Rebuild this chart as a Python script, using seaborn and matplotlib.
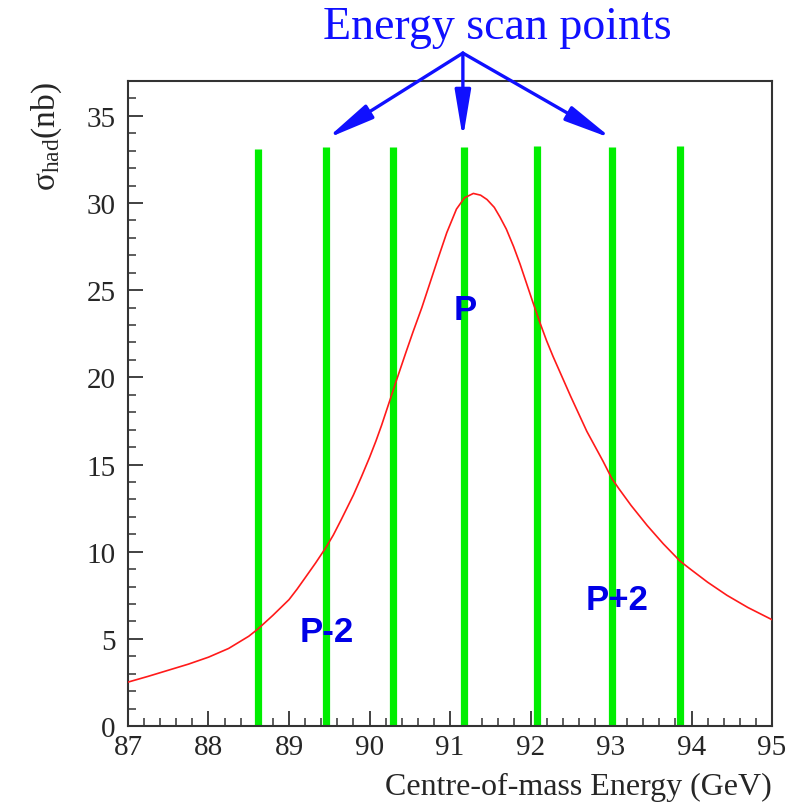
import matplotlib
matplotlib.use('Agg')
import matplotlib.pyplot as plt
from matplotlib.ticker import MultipleLocator
import seaborn as sns
import pandas as pd

# cross-section curve (GeV, nb)
energy = [87.0, 87.25, 87.5, 87.75, 88.0, 88.25, 88.5, 88.61, 88.8, 89.0,
          89.1, 89.2, 89.33, 89.46, 89.55, 89.65, 89.8, 89.9, 90.0, 90.08,
          90.15, 90.29, 90.34, 90.45, 90.54, 90.65, 90.75, 90.85, 90.96, 91.08,
          91.18, 91.29, 91.38, 91.46, 91.55, 91.62, 91.7, 91.79, 91.87, 91.95,
          92.03, 92.12, 92.2, 92.28, 92.39, 92.5, 92.7, 92.9, 93.01, 93.1,
          93.25, 93.45, 93.65, 93.86, 94.0, 94.2, 94.44, 94.7, 95.0]
sigma = [2.52, 2.85, 3.2, 3.55, 3.95, 4.45, 5.15, 5.55, 6.35, 7.25,
         7.85, 8.5, 9.35, 10.25, 10.95, 11.85, 13.25, 14.3, 15.4, 16.35,
         17.25, 19.2, 19.9, 21.4, 22.6, 24.0, 25.4, 26.8, 28.3, 29.65,
         30.3, 30.55, 30.45, 30.2, 29.75, 29.2, 28.5, 27.5, 26.5, 25.4,
         24.3, 23.1, 22.1, 21.2, 20.05, 18.9, 16.9, 15.2, 14.2, 13.6,
         12.65, 11.5, 10.45, 9.45, 8.95, 8.25, 7.5, 6.8, 6.1]

# energy scan points
scan_x = [88.61, 89.46, 90.29, 91.17, 92.08, 93.01, 93.86]
scan_top = [33.1, 33.2, 33.2, 33.2, 33.25, 33.2, 33.25]

# labelled points
point_names = ['P-2', 'P', 'P+2']
point_x = [89.47, 91.19, 93.08]
point_y = [5.45, 23.9, 7.27]

# arrow targets
arrow_x = [89.47, 91.16, 93.01]
arrow_src = (91.16, 38.6)
arrow_tip_y = 33.7

df = pd.DataFrame({'E': energy, 'sigma': sigma})

sns.set_theme(style='ticks')
plt.rcParams['font.family'] = ['Liberation Serif', 'DejaVu Serif']
plt.rcParams['mathtext.fontset'] = 'custom'
plt.rcParams['mathtext.rm'] = 'Liberation Serif'
plt.rcParams['mathtext.it'] = 'Liberation Serif:italic'

fig = plt.figure(figsize=(8.02, 8.03), dpi=100)
ax = fig.add_axes([0.1596, 0.0946, 0.803, 0.8033])

blue = '#1010ff'

ax.vlines(scan_x, 0, scan_top, colors='#00ee00', linewidth=5.2, zorder=2)
sns.lineplot(data=df, x='E', y='sigma', ax=ax, color='#ff1a1a', linewidth=1.2, zorder=3)

for name, x, y in zip(point_names, point_x, point_y):
    ax.text(x, y, name, ha='center', va='center', fontsize=25, fontweight='bold',
            family=['Liberation Sans', 'DejaVu Sans'], color='#0000e6', zorder=4)

for x in arrow_x:
    ax.annotate('', xy=(x, arrow_tip_y), xytext=arrow_src, xycoords='data',
                annotation_clip=False,
                arrowprops=dict(arrowstyle='-|>,head_length=2.4,head_width=0.4',
                                color=blue, lw=2.4, shrinkA=0, shrinkB=0))

fig.text(497 / 802, 1 - 39 / 803, 'Energy scan points', ha='center', va='baseline',
         fontsize=33, color=blue)

ax.set_xlim(87, 95)
ax.set_ylim(0, 37)
ax.xaxis.set_major_locator(MultipleLocator(1))
ax.xaxis.set_minor_locator(MultipleLocator(0.2))
ax.yaxis.set_major_locator(MultipleLocator(5))
ax.yaxis.set_minor_locator(MultipleLocator(1))
ax.tick_params(which='major', direction='in', length=11, width=1.3, color='#333333',
               labelsize=21, top=False, right=False)
ax.tick_params(which='minor', direction='in', length=6, width=1.1, color='#333333',
               top=False, right=False)
ax.tick_params(axis='x', which='major', pad=6)
ax.tick_params(axis='y', which='major', pad=9)
for s in ax.spines.values():
    s.set_linewidth(1.5)
    s.set_color('#333333')

ax.set_xlabel('Centre-of-mass Energy (GeV)', fontsize=23, loc='right', labelpad=8)
ax.set_ylabel(r'$\mathregular{\sigma_{had}}$(nb)', fontsize=24, loc='top', labelpad=16)

fig.savefig('out.png', dpi=100, facecolor='white')
